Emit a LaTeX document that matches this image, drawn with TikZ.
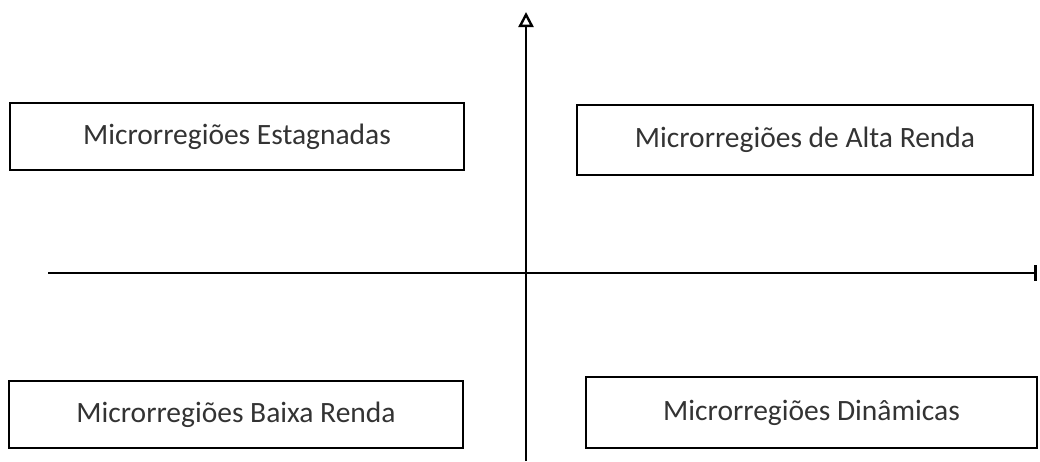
\documentclass[tikz,border=0pt]{standalone}
\usepackage{fontspec}
\setmainfont{Carlito}
\usetikzlibrary{arrows.meta}
\begin{document}
\begin{tikzpicture}[x=1pt,y=-1pt,
  quadbox/.style={draw=black, line width=1.8pt, inner sep=0pt, anchor=center,
    font=\fontsize{29.5}{31}\selectfont, text=black!80},
  axis/.style={draw=black, line width=2.4pt}]
  \path[use as bounding box, fill=white] (0,0) rectangle (1040,461);

  % quadrant boxes
  \node[quadbox, minimum width=454pt, minimum height=67pt] (est) at (237,136.5) {Microrregiões Estagnadas};
  \node[quadbox, minimum width=456pt, minimum height=70pt] (alta) at (805,140) {Microrregiões de Alta Renda};
  \node[quadbox, minimum width=454pt, minimum height=67pt] (baixa) at (236,414.5) {Microrregiões Baixa Renda};
  \node[quadbox, minimum width=451pt, minimum height=71pt] (din) at (811.5,412.5) {Microrregiões Dinâmicas};

  % axes
  \coordinate (ybot) at (526,461);
  \coordinate (ytop) at (526,12);
  \coordinate (xleft) at (48,273);
  \coordinate (xright) at (1037,273);
  \draw[axis, -{Triangle[open, length=15pt, width=15pt, line width=2.4pt]}] (ybot) -- (ytop);
  \draw[axis, -{Bar[width=16pt, line width=3pt]}] (xleft) -- (xright);
\end{tikzpicture}
\end{document}
